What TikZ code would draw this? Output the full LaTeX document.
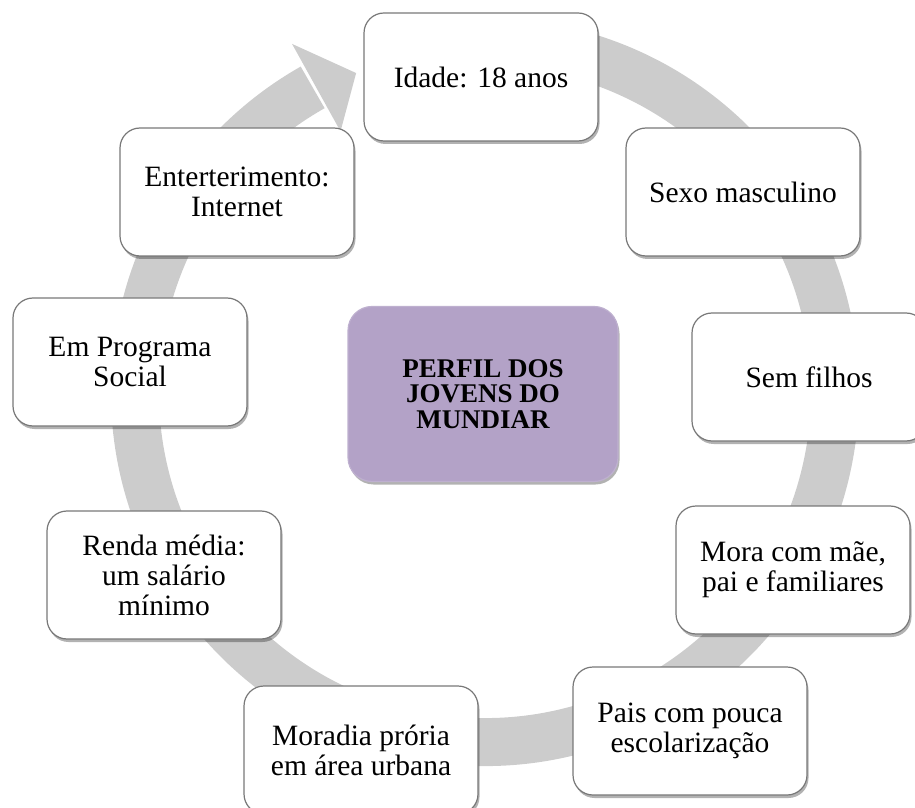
\documentclass[tikz,border=0pt]{standalone}
\usepackage{fontspec}
\setmainfont{Liberation Serif}
\usetikzlibrary{shadows}
\definecolor{ringgray}{RGB}{204,204,204}
\definecolor{boxline}{RGB}{120,120,120}
\definecolor{lilac}{RGB}{179,162,199}
\begin{document}
\begin{tikzpicture}[x=1pt, y=1pt,
    item/.style={draw=boxline, line width=1.2pt, fill=white, rounded corners=20pt,
        minimum width=234pt, minimum height=128pt, align=center,
        font=\fontsize{29.5}{30}\selectfont,
        drop shadow={shadow xshift=1.5pt, shadow yshift=-3pt, opacity=0.3, fill=black}},
    core/.style={draw=lilac!85!white, line width=1.2pt, fill=lilac, rounded corners=24pt,
        minimum width=270pt, minimum height=175pt, align=center,
        font=\fontsize{27}{25.5}\selectfont\bfseries,
        drop shadow={shadow xshift=1.5pt, shadow yshift=-3pt, opacity=0.3, fill=black}}]
    \useasboundingbox (0,0) rectangle (915,807);
    \coordinate (hub) at (485,415);
    \draw[ringgray, line width=48pt] ([shift={(78:350)}]hub) arc[start angle=78, end angle=-240.5, radius=350];
    \fill[ringgray] ([shift={(119:298)}]hub) -- ([shift={(112:344)}]hub) -- ([shift={(119:398)}]hub) -- cycle;
    \node[item] (idade) at (481,730) {Idade: 18 anos};
    \node[item] (sexo) at (743,615) {Sexo masculino};
    \node[item] (filhos) at (809,430) {Sem filhos};
    \node[item] (mora) at (793,237) {Mora com mãe,\\pai e familiares};
    \node[item] (pais) at (690,76) {Pais com pouca\\escolarização};
    \node[item] (moradia) at (361,57) {Moradia prória\\em área urbana};
    \node[item] (renda) at (164,232) {Renda média:\\um salário\\mínimo};
    \node[item] (programa) at (130,445) {Em Programa\\Social};
    \node[item] (lazer) at (237,615) {Enterterimento:\\Internet};
    \node[core] (perfil) at (483,413) {PERFIL DOS\\JOVENS DO\\MUNDIAR};
\end{tikzpicture}
\end{document}
